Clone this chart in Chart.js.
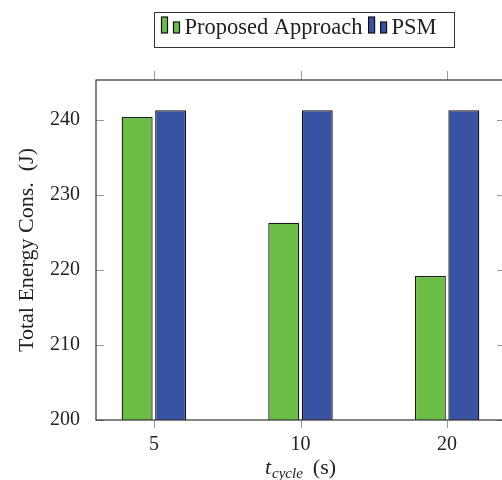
<!DOCTYPE html>
<html>
<head>
<meta charset="utf-8">
<script src="https://cdn.jsdelivr.net/npm/chart.js@4.4.0/dist/chart.umd.min.js"></script>
<style>
  html, body { margin: 0; padding: 0; overflow: hidden; background: #fff; }
  #wrap { width: 502px; height: 480px; overflow: hidden; }
</style>
</head>
<body>
<div id="wrap"><canvas id="chart" width="512" height="480"></canvas></div>
<script>
// data
const cycleLabels = ["5", "10", "20"];
const proposedValues = [240.4, 226.3, 219.2];
const psmValues = [241.3, 241.3, 241.3];
const yTicks = [200, 210, 220, 230, 240];

const FONT = "'Liberation Serif', 'Times New Roman', serif";
const GREEN = "#6cbd45";
const BLUE = "#3853a4";
Chart.defaults.font.family = FONT;
Chart.defaults.color = "#222";

const toPoints = vals => vals.map((v, i) => ({ x: i, y: v }));

// frame, inward/outward tick marks, legend box and x title
const decorations = {
  id: "decorations",
  afterDraw(chart) {
    const ctx = chart.ctx;
    const a = chart.chartArea;
    const xs = chart.scales.x, ys = chart.scales.y;
    ctx.save();

    // tick marks
    ctx.strokeStyle = "#9a9a9a";
    ctx.lineWidth = 1;
    ctx.beginPath();
    ys.ticks.forEach(t => {
      const y = Math.round(ys.getPixelForValue(t.value)) + 0.5;
      ctx.moveTo(a.left, y); ctx.lineTo(a.left + 8, y);
      ctx.moveTo(a.right - 8, y); ctx.lineTo(a.right, y);
    });
    xs.ticks.forEach(t => {
      const x = Math.round(xs.getPixelForValue(t.value)) + 0.5;
      ctx.moveTo(x, a.top - 9); ctx.lineTo(x, a.top);
      ctx.moveTo(x, a.bottom); ctx.lineTo(x, a.bottom + 8);
    });
    ctx.stroke();

    // plot frame
    ctx.strokeStyle = "#333";
    ctx.lineWidth = 1.2;
    ctx.strokeRect(a.left, a.top, a.right - a.left, a.bottom - a.top);

    // x axis title: t_cycle (s)
    ctx.fillStyle = "#222";
    ctx.textBaseline = "alphabetic";
    ctx.textAlign = "left";
    ctx.font = "italic 22px " + FONT;
    const wT = ctx.measureText("t").width;
    ctx.font = "italic 15px " + FONT;
    const wC = ctx.measureText("cycle").width;
    ctx.font = "22px " + FONT;
    const wS = ctx.measureText("  (s)").width;
    let x0 = (a.left + a.right) / 2 - (wT + wC + wS) / 2;
    const base = 474;
    ctx.font = "italic 22px " + FONT;
    ctx.fillText("t", x0, base);
    ctx.font = "italic 15px " + FONT;
    ctx.fillText("cycle", x0 + wT + 1, base + 4);
    ctx.font = "22px " + FONT;
    ctx.fillText("  (s)", x0 + wT + wC, base);

    // legend
    const items = chart.data.datasets.map(d => ({ label: d.label, color: d.backgroundColor }));
    ctx.font = "22.5px " + FONT;
    const widths = items.map(it => ctx.measureText(it.label).width);
    const padL = 7, padR = 17, icon = 18, gapText = 6, gapItem = 5;
    let total = padL + padR;
    widths.forEach((w, i) => { total += icon + gapText + w + (i < widths.length - 1 ? gapItem : 0); });
    total = Math.round(total);
    const boxL = Math.round(303.5 - total / 2) + 0.5;
    const boxT = 12.5, boxH = 35;
    ctx.fillStyle = "#fff";
    ctx.fillRect(boxL, boxT, total, boxH);
    ctx.strokeStyle = "#333";
    ctx.lineWidth = 1;
    ctx.strokeRect(boxL, boxT, total, boxH);
    let cx = boxL + padL;
    items.forEach((it, i) => {
      ctx.fillStyle = it.color;
      ctx.strokeStyle = "#111";
      ctx.lineWidth = 1.2;
      ctx.fillRect(cx, 17, 6, 16); ctx.strokeRect(cx, 17, 6, 16);
      ctx.fillRect(cx + 12, 22, 6, 11); ctx.strokeRect(cx + 12, 22, 6, 11);
      cx += icon + gapText - 1;
      ctx.fillStyle = "#222";
      ctx.fillText(it.label, cx, 34);
      cx += widths[i] + gapItem + 1;
    });

    ctx.restore();
  }
};

new Chart(document.getElementById("chart"), {
  type: "bar",
  data: {
    datasets: [
      {
        label: "Proposed Approach",
        data: toPoints(proposedValues),
        backgroundColor: GREEN,
        borderColor: "#1a1a1a",
        borderWidth: 1.3,
        borderSkipped: false
      },
      {
        label: "PSM",
        data: toPoints(psmValues),
        backgroundColor: BLUE,
        borderColor: "#111",
        borderWidth: 1.3,
        borderSkipped: false
      }
    ]
  },
  options: {
    responsive: false,
    animation: false,
    categoryPercentage: 0.457,
    barPercentage: 0.925,
    layout: { padding: { left: 0, top: 80, right: 7, bottom: 0 } },
    plugins: {
      legend: { display: false },
      tooltip: { enabled: false }
    },
    scales: {
      x: {
        type: "linear",
        offset: false,
        min: -0.395,
        max: 2.395,
        grid: { display: false, drawTicks: false },
        border: { display: false },
        afterBuildTicks: s => { s.ticks = cycleLabels.map((_, i) => ({ value: i })); },
        afterFit: s => { s.height = 60; },
        ticks: {
          padding: 13,
          font: { size: 20 },
          color: "#222",
          callback: v => cycleLabels[v]
        }
      },
      y: {
        min: 200,
        max: 245.33,
        grid: { display: false, drawTicks: false },
        border: { display: false },
        afterBuildTicks: s => { s.ticks = yTicks.map(v => ({ value: v })); },
        afterFit: s => { s.width = 96; },
        ticks: { padding: 16, font: { size: 20 }, color: "#222" },
        title: {
          display: true,
          text: "Total Energy Cons.  (J)",
          font: { size: 22 },
          color: "#222",
          padding: { top: 14, bottom: 0 }
        }
      }
    }
  },
  plugins: [decorations]
});
</script>
</body>
</html>
